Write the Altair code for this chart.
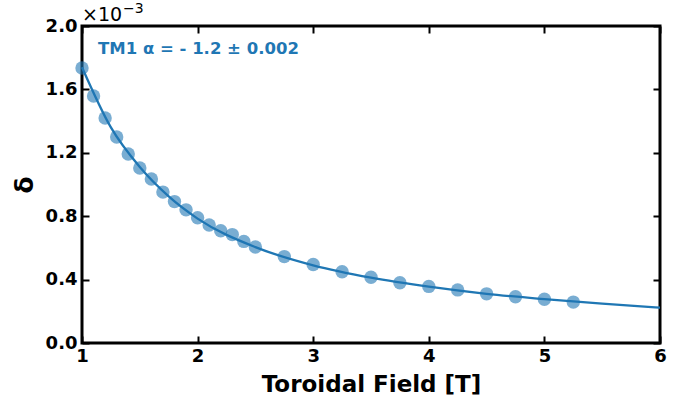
import altair as alt
import pandas as pd

# measured points (delta in units of 1e-3)
field = [1.0, 1.1, 1.2, 1.3, 1.4, 1.5, 1.6, 1.7, 1.8, 1.9, 2.0, 2.1, 2.2, 2.3, 2.4, 2.5,
         2.75, 3.0, 3.25, 3.5, 3.75, 4.0, 4.25, 4.5, 4.75, 5.0, 5.25]
delta = [1.735, 1.558, 1.42, 1.30, 1.192, 1.104, 1.035, 0.952, 0.892, 0.84, 0.79, 0.745,
         0.708, 0.684, 0.641, 0.606, 0.545, 0.495, 0.45, 0.415, 0.38, 0.357, 0.335,
         0.31, 0.292, 0.276, 0.258]

# fitted curve
fit_x = [1.0, 1.25, 1.5, 1.75, 2.0, 2.5, 3.0, 3.5, 4.0, 4.5, 5.0, 5.5, 6.0]
fit_y = [1.74, 1.36, 1.11, 0.925, 0.785, 0.605, 0.49, 0.412, 0.355, 0.31, 0.277, 0.248, 0.223]

x_ticks = [1, 2, 3, 4, 5, 6]
y_ticks = [0.0, 0.4, 0.8, 1.2, 1.6, 2.0]

pts = pd.DataFrame({"B": field, "d": delta})
fit = pd.DataFrame({"B": fit_x, "d": fit_y})

BLUE = "#1f77b4"
FONT = "DejaVu Sans"

xs = alt.Scale(domain=[1, 6], nice=False, zero=False)
ys = alt.Scale(domain=[0, 2.0], nice=False, zero=False)

curve = alt.Chart(fit).mark_line(color=BLUE, strokeWidth=2.3, interpolate="monotone").encode(
    x=alt.X("B:Q", scale=xs, axis=alt.Axis(
        values=x_ticks, format="d", title="Toroidal Field [T]", orient="bottom",
        ticks=False, domain=False, grid=False, labelPadding=4,
        labelFont=FONT, labelFontSize=18, labelFontWeight="bold", labelColor="black",
        titleFont=FONT, titleFontSize=23, titleFontWeight="bold", titleColor="black",
        titlePadding=8, labelFlush=False)),
    y=alt.Y("d:Q", scale=ys, axis=alt.Axis(
        values=y_ticks, format=".1f", title="δ", orient="left",
        ticks=False, domain=False, grid=False, labelPadding=5,
        labelFont=FONT, labelFontSize=18, labelFontWeight="bold", labelColor="black",
        titleFont=FONT, titleFontSize=25, titleFontWeight="bold", titleColor="black",
        titlePadding=8, labelFlush=False)),
)

dots = alt.Chart(pts).mark_circle(color=BLUE, opacity=0.6, size=180).encode(
    x=alt.X("B:Q", scale=xs, axis=None),
    y=alt.Y("d:Q", scale=ys, axis=None),
)

def tick_layer(xorient, yorient):
    return alt.Chart(fit).mark_point(opacity=0).encode(
        x=alt.X("B:Q", scale=xs, axis=alt.Axis(
            values=x_ticks, orient=xorient, offset=-7, tickSize=7, tickWidth=2,
            tickColor="black", labels=False, domain=False, grid=False, title=None)),
        y=alt.Y("d:Q", scale=ys, axis=alt.Axis(
            values=y_ticks, orient=yorient, offset=-7, tickSize=7, tickWidth=2,
            tickColor="black", labels=False, domain=False, grid=False, title=None)),
    )

ticks1 = tick_layer("bottom", "left")
ticks2 = tick_layer("top", "right")

label = alt.Chart(pd.DataFrame({"t": ["TM1 α = - 1.2 ± 0.002"]})).mark_text(
    font=FONT, fontSize=16.5, fontWeight="bold", color=BLUE, align="left", baseline="middle"
).encode(x=alt.value(16), y=alt.value(23), text="t:N")

expo = alt.Chart(pd.DataFrame({"t": ["×10"]})).mark_text(
    font=FONT, fontSize=19, color="black", align="left", baseline="alphabetic"
).encode(x=alt.value(0), y=alt.value(-5), text="t:N")

expo_sup = alt.Chart(pd.DataFrame({"t": ["−3"]})).mark_text(
    font=FONT, fontSize=14, color="black", align="left", baseline="alphabetic"
).encode(x=alt.value(41), y=alt.value(-13), text="t:N")

chart = alt.layer(curve, dots, ticks1, ticks2, label, expo, expo_sup).resolve_axis(
    x="independent", y="independent"
).properties(
    width=578, height=317,
    autosize=alt.AutoSizeParams(type="none"),
    padding={"left": 82, "top": 26, "right": 27, "bottom": 58},
).configure_view(stroke="black", strokeWidth=3)

chart.save("out.html", embed_options={"renderer": "svg", "actions": False})
